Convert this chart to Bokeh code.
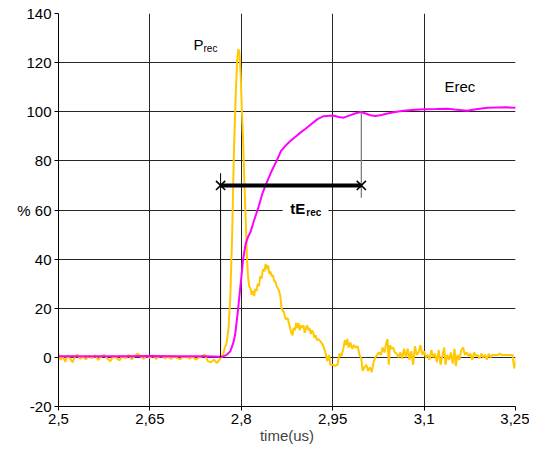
from bokeh.plotting import figure
from bokeh.models import Label, Range1d, FixedTicker
from bokeh.embed import file_html
from bokeh.resources import INLINE

# ---------------- data ----------------
x_ticks = [2.5, 2.65, 2.8, 2.95, 3.1, 3.25]
x_labels = ["2,5", "2,65", "2,8", "2,95", "3,1", "3,25"]
y_ticks = [-20, 0, 20, 40, 60, 80, 100, 120, 140]
y_labels = ["-20", "0", "20", "40", "% 60", "80", "100", "120", "140"]

# P_rec (yellow)
t_prec = [
    2.500, 2.503, 2.507, 2.511, 2.515, 2.519, 2.523, 2.527, 2.531, 2.535,
    2.540, 2.545, 2.550, 2.555, 2.560, 2.565, 2.570, 2.575, 2.580, 2.585,
    2.590, 2.595, 2.600, 2.605, 2.610, 2.615, 2.620, 2.625, 2.630, 2.635,
    2.640, 2.645, 2.650, 2.655, 2.660, 2.665, 2.670, 2.675, 2.680, 2.685,
    2.690, 2.695, 2.700, 2.705, 2.710, 2.715, 2.720, 2.725, 2.730, 2.735,
    2.740, 2.745, 2.750, 2.755, 2.760, 2.764,
    2.767, 2.770, 2.773, 2.776, 2.779, 2.782, 2.785, 2.788, 2.791, 2.793,
    2.795, 2.797, 2.799, 2.801, 2.803, 2.805, 2.807, 2.809, 2.811, 2.813,
    2.815, 2.817, 2.819, 2.821, 2.823, 2.825, 2.827, 2.829, 2.831, 2.833,
    2.835, 2.836, 2.838, 2.840, 2.842, 2.844, 2.846, 2.848, 2.850, 2.852,
    2.854, 2.856, 2.858, 2.860, 2.862, 2.864, 2.866, 2.868, 2.870, 2.872,
    2.874, 2.876, 2.878, 2.880, 2.882, 2.884, 2.886, 2.888, 2.890, 2.892,
    2.894, 2.896, 2.898, 2.900, 2.902, 2.904, 2.906, 2.908, 2.910, 2.912,
    2.914, 2.916, 2.918, 2.920, 2.922, 2.924, 2.926, 2.930, 2.934, 2.938,
    2.941, 2.944, 2.946, 2.950, 2.954, 2.958, 2.961, 2.964, 2.967, 2.970,
    2.972, 2.974, 2.976, 2.979, 2.982, 2.985, 2.988, 2.991, 2.994, 2.997,
    2.999, 3.002, 3.005, 3.008, 3.011, 3.014, 3.017, 3.020, 3.023, 3.026,
    3.029, 3.032, 3.035, 3.038, 3.040, 3.042, 3.044, 3.046, 3.049, 3.052,
    3.055, 3.058, 3.061, 3.064, 3.067, 3.070, 3.073, 3.076, 3.079, 3.082,
    3.085, 3.088, 3.091, 3.094, 3.097, 3.100, 3.103, 3.106, 3.109, 3.112,
    3.115, 3.118, 3.121, 3.124, 3.127, 3.130, 3.133, 3.135, 3.138, 3.141,
    3.144, 3.147, 3.150, 3.152, 3.155, 3.158, 3.161, 3.164, 3.167, 3.170,
    3.173, 3.176, 3.179, 3.182, 3.185, 3.188, 3.191, 3.194, 3.197, 3.200,
    3.203, 3.206, 3.209, 3.212, 3.215, 3.218, 3.221, 3.224, 3.227, 3.230,
    3.233, 3.236, 3.239, 3.242, 3.245, 3.248, 3.251, 3.254, 3.258,
]
p_rec = [
    1.5, -1.0, 0.5, -1.8, 0.8, -0.5, -2.0, 0.3, 1.2, -0.6,
    0.2, -0.8, 0.5, -0.3, 0.9, -1.0, 0.2, 1.0, -0.5, -1.6,
    0.4, -0.2, -1.2, 0.6, -0.4, 1.1, -0.9, 0.5, 1.6, 0.3,
    -0.6, 0.8, -0.2, 0.9, -0.7, 0.4, 0.6, -0.4, 0.3, -0.6,
    0.5, -0.3, -0.8, 0.4, 0.2, -0.5, 0.3, -0.9, -0.2, 0.4,
    1.2, -1.5, -2.0, -1.0, -2.2, -1.0,
    0.0, 1.0, 4.0, 6.0, 12.0, 25.0, 50.0, 85.0, 108.0, 120.0,
    125.5, 124.0, 115.0, 100.0, 88.0, 72.0, 58.0, 42.0, 33.0, 29.0,
    28.0, 25.5, 27.0, 25.0, 28.0, 27.0, 30.0, 29.0, 33.0, 32.0,
    35.0, 36.0, 35.0, 38.0, 36.0, 37.5, 34.0, 35.0, 33.0, 33.5,
    31.0, 31.0, 29.0, 28.0, 27.0, 25.0, 20.0, 19.0, 18.5, 16.0,
    15.5, 16.0, 14.0, 12.0, 10.0, 9.0, 12.0, 11.0, 14.0, 12.0,
    14.0, 11.0, 13.0, 12.0, 13.0, 10.0, 12.0, 13.0, 11.0, 12.0,
    9.5, 11.0, 10.0, 8.0, 9.0, 7.0, 7.5, 6.5, 5.0, 2.0,
    -1.5, 1.0, -3.0, -3.0, -3.5, -3.0, 1.5, 0.5, 3.0, 7.0,
    5.0, 7.5, 4.0, 6.0, 3.5, 5.0, 4.0, 4.5, 1.0, -0.5,
    -5.5, -4.0, -3.0, -5.5, -4.0, -6.0, -2.0, 0.0, 1.0, 2.0,
    1.0, 4.0, 2.0, 6.0, 7.5, -3.0, 5.0, 3.5, 4.0, 2.0,
    1.5, 0.0, 2.0, -0.5, 3.5, 0.0, 3.5, -1.0, 2.5, -3.0,
    4.5, 1.0, 2.0, 5.0, 1.0, 2.5, 0.0, 1.0, -1.0, 3.0,
    0.0, 1.5, -2.0, 3.0, -3.0, 0.5, 4.0, -3.0, 1.0, -1.0,
    2.0, -2.5, 3.5, -3.5, 1.0, -1.0, 3.0, 4.0, 1.0, 2.0,
    0.5, 1.5, -1.0, 2.0, 0.5, 1.0, -0.5, 1.5, 0.0, 1.0,
    -1.0, 1.5, 0.0, 1.0, 1.0, 1.0, 1.0, 1.5, 1.0, 1.0,
    1.0, 1.0, 1.0, 1.0, 1.0, -4.5, -1.0, 1.0, 1.5,
]

# E_rec (magenta)
t_erec = [
    2.500, 2.550, 2.600, 2.650, 2.700, 2.740, 2.765, 2.770, 2.776, 2.782,
    2.787, 2.790, 2.794, 2.799, 2.803, 2.807, 2.811, 2.815, 2.820, 2.828,
    2.835, 2.843, 2.850, 2.858, 2.865, 2.872, 2.880, 2.890, 2.897, 2.905,
    2.915, 2.925, 2.935, 2.945, 2.952, 2.960, 2.968, 2.978, 2.988, 2.996,
    3.004, 3.012, 3.020, 3.030, 3.040, 3.050, 3.066, 3.080, 3.100, 3.120,
    3.138, 3.150, 3.171, 3.185, 3.204, 3.220, 3.235, 3.253, 3.262,
]
e_rec = [
    0.5, 0.5, 0.5, 0.6, 0.5, 0.5, 0.3, 0.4, 1.0, 2.5,
    6.0, 9.4, 18.0, 30.0, 40.0, 46.0, 49.0, 51.0, 55.0, 61.0,
    67.0, 72.0, 76.0, 80.0, 84.0, 86.0, 88.0, 90.0, 91.5, 93.0,
    95.0, 97.0, 98.2, 98.4, 98.4, 97.9, 97.6, 98.5, 99.4, 99.9,
    99.3, 98.6, 98.3, 98.7, 99.3, 99.8, 100.4, 100.7, 101.0, 101.1,
    101.2, 100.9, 100.4, 101.0, 101.6, 101.7, 101.8, 101.6, 101.2,
]

# tE_rec marker
te_start = 2.766
te_end = 2.997
te_level = 70

# ---------------- figure ----------------
FONT = "Liberation Sans"
p = figure(width=529, height=450,
           x_range=Range1d(2.5, 3.25), y_range=Range1d(-20, 140),
           output_backend="svg", toolbar_location=None,
           min_border_left=58, min_border_right=14,
           min_border_top=13, min_border_bottom=44)
p.outline_line_color = None
p.background_fill_color = "white"
p.border_fill_color = "white"

p.xaxis.ticker = FixedTicker(ticks=x_ticks)
p.yaxis.ticker = FixedTicker(ticks=y_ticks)
p.xaxis.major_label_overrides = {t: l for t, l in zip(x_ticks, x_labels)}
p.yaxis.major_label_overrides = {t: l for t, l in zip(y_ticks, y_labels)}
for ax in (p.xaxis, p.yaxis):
    ax.axis_line_color = "black"
    ax.major_tick_line_color = "black"
    ax.major_tick_out = 4
    ax.major_tick_in = 0
    ax.minor_tick_line_color = None
    ax.major_label_text_font = FONT
    ax.major_label_text_font_size = "15px"
    ax.major_label_text_color = "black"
    ax.major_label_standoff = 3
p.xaxis.axis_label = "time(us)"
p.xaxis.axis_label_text_font = FONT
p.xaxis.axis_label_text_font_size = "15px"
p.xaxis.axis_label_text_font_style = "normal"
p.xaxis.axis_label_standoff = 0

p.xgrid.ticker = FixedTicker(ticks=x_ticks)
p.ygrid.ticker = FixedTicker(ticks=y_ticks)
for g in (p.xgrid, p.ygrid):
    g.grid_line_color = "#262626"
    g.grid_line_width = 1

# white box behind the tE_rec label
p.quad(left=[2.868], right=[2.943], bottom=[55.5], top=[64.0],
       fill_color="white", line_color=None)

# curves
p.line(t_prec, p_rec, line_color="#FFC800", line_width=2)
p.line(t_erec, e_rec, line_color="#FF00FF", line_width=2)

# tE_rec construction
p.segment(x0=[te_start], y0=[0], x1=[te_start], y1=[75], line_color="black", line_width=1)
p.segment(x0=[te_end], y0=[65], x1=[te_end], y1=[100], line_color="#7f7f7f", line_width=1.3)
p.line([te_start, te_end], [te_level, te_level], line_color="black", line_width=4)
p.scatter([te_start, te_end], [te_level, te_level], marker="x", size=13,
          line_color="black", line_width=1.6)

# labels
p.add_layout(Label(x=2.7216, y=127.5, text="P", text_font=FONT, text_font_size="15px",
                   text_baseline="middle", text_color="black"))
p.add_layout(Label(x=2.7216, y=127.5, x_offset=10, y_offset=-4, text="rec", text_font=FONT,
                   text_font_size="10px", text_baseline="middle", text_color="black"))
p.add_layout(Label(x=3.1335, y=110.2, text="Erec", text_font=FONT, text_font_size="15px",
                   text_baseline="middle", text_color="black"))
p.add_layout(Label(x=2.8805, y=60.5, text="tE", text_font=FONT, text_font_size="15px",
                   text_font_style="bold", text_baseline="middle", text_color="black"))
p.add_layout(Label(x=2.8805, y=60.5, x_offset=16, y_offset=-4, text="rec", text_font=FONT,
                   text_font_size="10px", text_font_style="bold", text_baseline="middle",
                   text_color="black"))

open("out.html", "w").write(file_html(p, INLINE))
